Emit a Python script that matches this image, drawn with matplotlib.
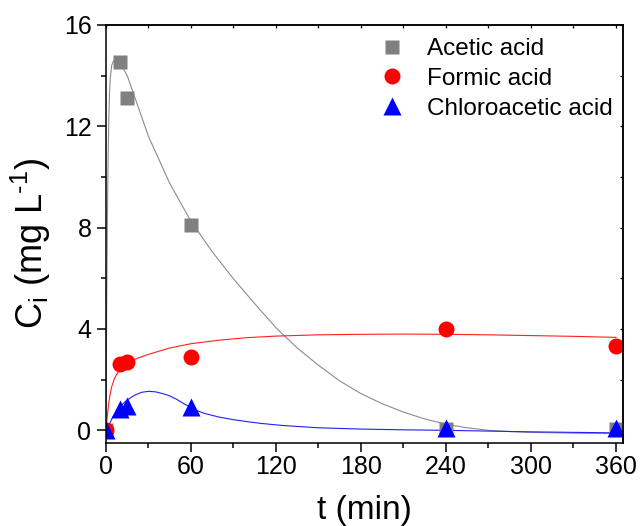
import matplotlib
matplotlib.use("Agg")
import matplotlib.pyplot as plt
from matplotlib.ticker import MultipleLocator

plt.rcParams['font.family'] = ['Liberation Sans', 'DejaVu Sans']
plt.rcParams['mathtext.fontset'] = 'custom'
plt.rcParams['mathtext.rm'] = 'Liberation Sans'

# measured points
t_pts = [0, 10, 15, 60, 240, 360]
acetic = [0, 14.55, 13.1, 8.1, 0.05, 0.05]
formic = [0, 2.63, 2.7, 2.9, 4.0, 3.32]
chloro = [0, 0.85, 0.95, 0.92, 0.1, 0.1]

# fitted curves
t_ac = [0, 0.5, 1, 1.5, 2, 2.5, 3, 4, 5, 6, 8, 10, 12, 15, 20, 30, 45, 60, 75, 90,
        105, 120, 135, 150, 165, 180, 195, 210, 225, 240, 255, 270, 285, 300, 330, 360]
c_ac = [0, 5.0, 8.5, 10.8, 12.3, 13.3, 13.9, 14.4, 14.55, 14.6, 14.55, 14.45, 14.3,
        14.0, 13.2, 11.6, 9.75, 8.25, 7.05, 5.98, 5.0, 4.05, 3.25, 2.57, 1.95, 1.45,
        1.05, 0.72, 0.45, 0.24, 0.1, 0.0, -0.05, -0.08, -0.11, -0.13]

t_fo = [0, 1, 2, 3, 4, 6, 8, 10, 12, 15, 20, 30, 45, 60, 80, 100, 120, 150, 180,
        210, 240, 270, 300, 330, 360]
c_fo = [0, 0.6, 1.1, 1.45, 1.72, 2.05, 2.25, 2.4, 2.52, 2.65, 2.8, 3.0, 3.25, 3.42,
        3.56, 3.66, 3.72, 3.77, 3.79, 3.8, 3.79, 3.77, 3.74, 3.71, 3.67]

t_ch = [0, 2, 5, 10, 15, 20, 25, 30, 35, 40, 45, 50, 55, 60, 65, 70, 80, 90, 100,
        110, 125, 150, 180, 210, 240, 270, 300, 330, 360]
c_ch = [0, 0.2, 0.55, 0.95, 1.2, 1.38, 1.5, 1.54, 1.52, 1.45, 1.36, 1.22, 1.05, 0.9,
        0.76, 0.66, 0.52, 0.42, 0.34, 0.27, 0.19, 0.1, 0.05, 0.02, 0.0, -0.03, -0.06,
        -0.08, -0.1]

labels = ['Acetic acid', 'Formic acid', 'Chloroacetic acid']

fig = plt.figure(figsize=(6.41, 5.26), dpi=100)
ax = fig.add_axes([106/641, 1-443/526, (623-106)/641, (443-25)/526])

ax.plot(t_ac, c_ac, color='#8c8c8c', lw=0.8)
ax.plot(t_fo, c_fo, color='#ff2020', lw=0.8)
ax.plot(t_ch, c_ch, color='#2020ff', lw=0.8)

ax.plot(t_pts, acetic, 's', color='#808080', ms=10, mec='none', label=labels[0])
ax.plot(t_pts, formic, 'o', color='#ff0000', ms=11.5, mec='none', label=labels[1])
ax.plot(t_pts, chloro, '^', color='#0000ff', ms=13.5, mec='none', label=labels[2])

ax.set_xlim(0, 365)
ax.set_ylim(-0.5, 16)
ax.xaxis.set_major_locator(MultipleLocator(60))
ax.xaxis.set_minor_locator(MultipleLocator(30))
ax.yaxis.set_major_locator(MultipleLocator(4))
ax.yaxis.set_minor_locator(MultipleLocator(2))

for s in ax.spines.values():
    s.set_linewidth(1.1)

ax.tick_params(which='major', direction='out', length=6.5, width=1.1, labelsize=18)
ax.tick_params(which='minor', direction='out', length=3.3, width=1.1)
ax.tick_params(axis='x', pad=2)
ax.tick_params(axis='y', pad=4)

top = ax.secondary_xaxis('top')
top.xaxis.set_major_locator(MultipleLocator(60))
top.xaxis.set_minor_locator(MultipleLocator(30))
top.tick_params(which='both', direction='in', length=2.5, width=0.9, labeltop=False)
right = ax.secondary_yaxis('right')
right.yaxis.set_major_locator(MultipleLocator(4))
right.yaxis.set_minor_locator(MultipleLocator(2))
right.tick_params(which='both', direction='in', length=2.5, width=0.9, labelright=False)
for sec in (top, right):
    for s in sec.spines.values():
        s.set_linewidth(1.1)

ax.set_xlabel('t (min)', fontsize=24, labelpad=12)
ax.set_ylabel('C$_\\mathregular{i}$ (mg L$^\\mathregular{\u20101}$)', fontsize=26)
ax.yaxis.set_label_coords(-0.102, 0.478)

leg = fig.legend(loc='upper left', bbox_to_anchor=(380/641, 1-38/526),
                 frameon=False, fontsize=17.5, handlelength=1.0, handletextpad=0.93,
                 labelspacing=0.32, borderpad=0, borderaxespad=0)

fig.savefig('out.png', dpi=100)
